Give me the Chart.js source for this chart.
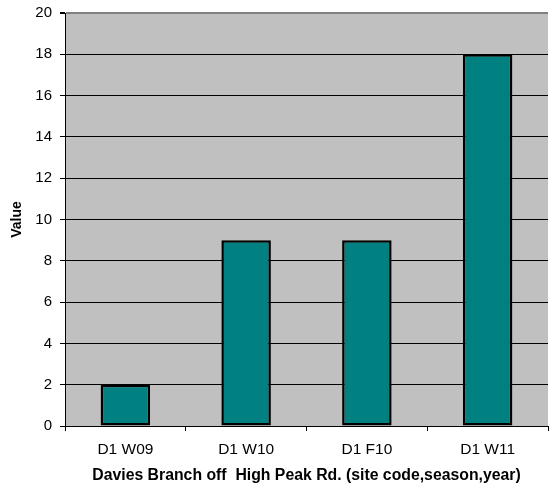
<!DOCTYPE html>
<html>
<head>
<meta charset="utf-8">
<script src="https://cdn.jsdelivr.net/npm/chart.js@4"></script>
<style>
    html, body { margin: 0; padding: 0; background: #ffffff; }
    #wrap { width: 549px; height: 488px; }
</style>
</head>
<body>
<div id="wrap"><canvas id="myChart"></canvas></div>
<script>
const CATEGORIES = ['D1 W09', 'D1 W10', 'D1 F10', 'D1 W11'];
const VALUES = [2, 9, 9, 18];
const Y_MIN = 0;
const Y_MAX = 20;
const Y_STEP = 2;

const X_TITLE = 'Davies Branch off  High Peak Rd. (site code,season,year)';
const Y_TITLE = 'Value';

const FONT = 'Arial, "Liberation Sans", sans-serif';

// grey plot area like the old spreadsheet charts
const plotBackground = {
    id: 'plotBackground',
    beforeDraw(chart) {
        const { ctx, chartArea } = chart;
        ctx.save();
        ctx.fillStyle = '#c0c0c0';
        ctx.fillRect(chartArea.left, chartArea.top, chartArea.right - chartArea.left, chartArea.bottom - chartArea.top);
        ctx.restore();
    }
};

const ctx = document.getElementById('myChart');
new Chart(ctx, {
    type: 'bar',
    data: {
        labels: CATEGORIES,
        datasets: [{
            data: VALUES,
            backgroundColor: '#008080',
            borderColor: '#000000',
            borderWidth: 2.5,
            borderSkipped: false,
            categoryPercentage: 1,
            barPercentage: 0.41
        }]
    },
    options: {
        responsive: true,
        maintainAspectRatio: false,
        animation: false,
        events: [],
        layout: {
            padding: { left: 0, top: 13, right: 1, bottom: 0 }
        },
        plugins: {
            legend: { display: false },
            tooltip: { enabled: false }
        },
        scales: {
            x: {
                grid: {
                    offset: true,
                    drawOnChartArea: false,
                    color: '#000000',
                    tickLength: 5
                },
                border: { color: '#000000', width: 1 },
                ticks: {
                    color: '#000000',
                    padding: 9,
                    maxRotation: 0,
                    font: { family: FONT, size: 15.5 }
                },
                title: {
                    display: true,
                    text: X_TITLE,
                    color: '#000000',
                    font: { family: FONT, size: 15.8, weight: 'bold' },
                    padding: { top: 4, bottom: 3 }
                },
                afterFit(scale) {
                    scale.height = 62;
                    scale.paddingLeft = 0;
                    scale.paddingRight = 0;
                }
            },
            y: {
                min: Y_MIN,
                max: Y_MAX,
                grid: {
                    color: (c) => c.tick && c.tick.value === Y_MAX ? '#808080' : '#000000',
                    lineWidth: (c) => c.tick && c.tick.value === Y_MAX ? 2 : 1,
                    tickColor: '#000000',
                    tickLength: 5
                },
                border: { color: '#000000', width: 1 },
                ticks: {
                    stepSize: Y_STEP,
                    color: '#000000',
                    padding: 8,
                    font: { family: FONT, size: 15 }
                },
                title: {
                    display: true,
                    text: Y_TITLE,
                    color: '#000000',
                    font: { family: FONT, size: 14, weight: 'bold' },
                    padding: { top: 9, bottom: 4 }
                },
                afterFit(scale) {
                    scale.width = 65;
                    scale.paddingTop = 0;
                    scale.paddingBottom = 0;
                }
            }
        }
    },
    plugins: [plotBackground]
});
</script>
</body>
</html>
